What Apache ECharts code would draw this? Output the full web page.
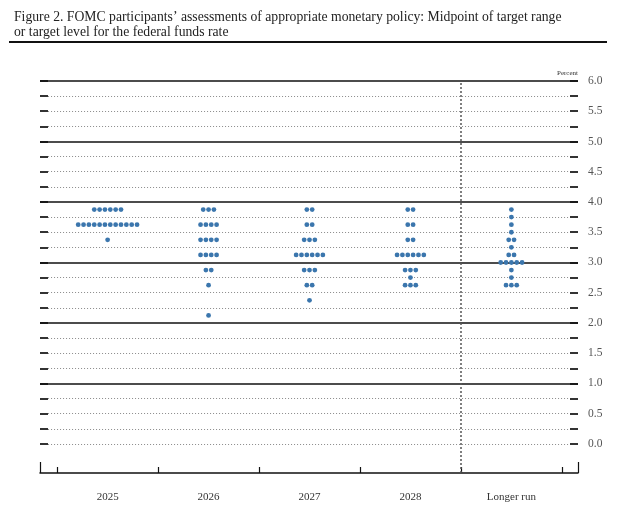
<!DOCTYPE html>
<html>
<head>
<meta charset="utf-8">
<script src="https://cdn.jsdelivr.net/npm/echarts@6/dist/echarts.min.js"></script>
<style>html,body{margin:0;padding:0;background:#fff}#c{width:620px;height:514px}</style>
</head>
<body>
<div id="c"></div>
<script>
const categories = ['2025', '2026', '2027', '2028', 'Longer run'];
// [rate midpoint, number of participants]
const dots2025 = [[3.875, 6], [3.625, 12], [3.375, 1]];
const dots2026 = [[3.875, 3], [3.625, 4], [3.375, 4], [3.125, 4], [2.875, 2], [2.625, 1], [2.125, 1]];
const dots2027 = [[3.875, 2], [3.625, 2], [3.375, 3], [3.125, 6], [2.875, 3], [2.625, 2], [2.375, 1]];
const dots2028 = [[3.875, 2], [3.625, 2], [3.375, 2], [3.125, 6], [2.875, 3], [2.75, 1], [2.625, 3]];
const dotsLonger = [[3.875, 1], [3.75, 1], [3.625, 1], [3.5, 1], [3.375, 2], [3.25, 1], [3.125, 2], [3.0, 5], [2.875, 1], [2.75, 1], [2.625, 3]];
const yLabelValues = [0, 0.5, 1, 1.5, 2, 2.5, 3, 3.5, 4, 4.5, 5, 5.5, 6];
const yLineValues = [0, 0.25, 0.5, 0.75, 1, 1.25, 1.5, 1.75, 2, 2.25, 2.5, 2.75, 3, 3.25, 3.5, 3.75, 4, 4.25, 4.5, 4.75, 5, 5.25, 5.5, 5.75, 6];
const solidValues = [1, 2, 3, 4, 5, 6];

const allDots = [dots2025, dots2026, dots2027, dots2028, dotsLonger];
const data = [];
allDots.forEach((arr, ci) => arr.forEach(d => data.push([ci, d[0], d[1]])));

const XMIN = -0.67, XMAX = 4.66;
const serif = "'Liberation Serif', 'DejaVu Serif', serif";

const dottedLines = yLineValues.filter(v => solidValues.indexOf(v) < 0).map(v => [
  { coord: [-0.59, v] }, { coord: [4.57, v] }
]);
const solidLines = solidValues.map(v => ({ yAxis: v, lineStyle: { type: 'solid', color: '#111', width: 1.5 } }));

const chart = echarts.init(document.getElementById('c'), null, { renderer: 'canvas' });
chart.setOption({
  animation: false,
  backgroundColor: '#fff',
  title: {
    text: 'Figure 2. FOMC participants\u2019 assessments of appropriate monetary policy: Midpoint of target range\nor target level for the federal funds rate',
    left: 9, top: 5,
    textStyle: { fontFamily: serif, fontSize: 13.7, fontWeight: 'normal', color: '#222', lineHeight: 15 }
  },
  graphic: [{
    type: 'line', shape: { x1: 9, y1: 42, x2: 607, y2: 42 },
    style: { stroke: '#111', lineWidth: 2 }, silent: true
  }],
  grid: { left: 40, right: 42, top: 81, bottom: 41 },
  xAxis: [{
    type: 'value', min: XMIN, max: XMAX,
    splitLine: { show: false },
    axisLine: { show: true, onZero: false, lineStyle: { color: '#111', width: 1.5 } },
    axisTick: { show: true, inside: true, length: 6, customValues: [-0.5, 0.5, 1.5, 2.5, 3.5, 4.5], lineStyle: { color: '#111', width: 1.2 } },
    axisLabel: { show: true, customValues: [0, 1, 2, 3, 4], formatter: v => categories[Math.round(v)], margin: 19, fontFamily: serif, fontSize: 11, color: '#333' }
  }, {
    type: 'value', min: XMIN, max: XMAX, position: 'bottom',
    splitLine: { show: false },
    axisLine: { show: false, onZero: false },
    axisTick: { show: true, inside: true, length: 11, customValues: [XMIN, XMAX], lineStyle: { color: '#111', width: 1.2 } },
    axisLabel: { show: false }
  }],
  yAxis: [{
    type: 'value', min: -0.48, max: 6, position: 'left',
    splitLine: { show: false },
    axisLine: { show: false, onZero: false },
    axisTick: { show: true, inside: true, length: 8, customValues: yLineValues, lineStyle: { color: '#333', width: 2 } },
    axisLabel: { show: false }
  }, {
    type: 'value', min: -0.48, max: 6, position: 'right',
    name: 'Percent', nameLocation: 'end', nameGap: 4,
    nameTextStyle: { fontFamily: serif, fontSize: 7, color: '#333', align: 'right', padding: [0, 0, 0, 0] },
    splitLine: { show: false },
    axisLine: { show: false, onZero: false },
    axisTick: { show: true, inside: true, length: 8, customValues: yLineValues, lineStyle: { color: '#333', width: 2 } },
    axisLabel: { show: true, customValues: yLabelValues, formatter: v => v.toFixed(1), margin: 10, fontFamily: serif, fontSize: 11.5, color: '#555' }
  }],
  series: [{
    type: 'custom',
    xAxisIndex: 0, yAxisIndex: 0,
    data: data,
    z: 5,
    renderItem: function (params, api) {
      const c = api.coord([api.value(0), api.value(1)]);
      const n = api.value(2);
      const gap = 5.35;
      const children = [];
      for (let i = 0; i < n; i++) {
        children.push({
          type: 'circle',
          shape: { cx: c[0] + (i - (n - 1) / 2) * gap, cy: c[1], r: 2.4 },
          style: { fill: '#3b76ad' }
        });
      }
      return { type: 'group', children: children };
    },
    markLine: {
      silent: true, symbol: 'none', animation: false,
      label: { show: false },
      lineStyle: { type: [1, 2], color: '#8a8a8a', width: 1 },
      data: dottedLines.concat(solidLines).concat([
        { xAxis: 3.5, lineStyle: { type: [2, 2], color: '#555', width: 1.5 } }
      ])
    }
  }]
});
</script>
</body>
</html>
